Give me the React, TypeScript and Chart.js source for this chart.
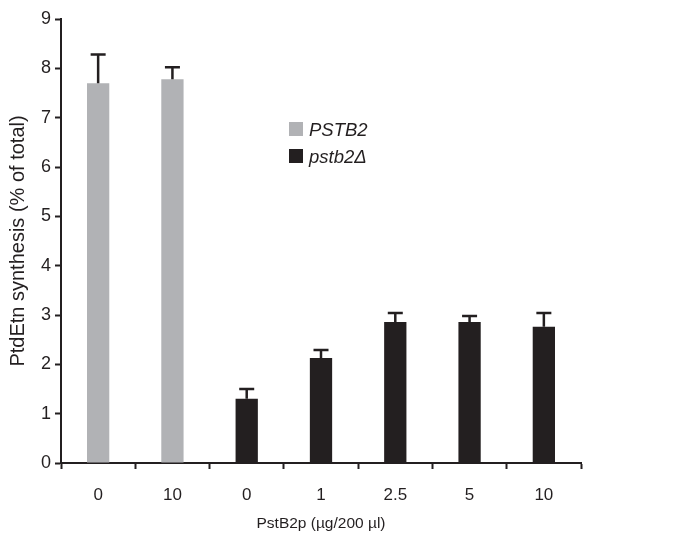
import React, { useEffect, useRef } from "react";
import { Chart, registerables } from "chart.js";

Chart.register(...registerables);

const categories = ["0", "10", "0", "1", "2.5", "5", "10"];
const wildTypeLabel = "PSTB2";
const mutantLabel = "pstb2Δ";
const wildTypeValues = [7.7, 7.78, null, null, null, null, null];
const wildTypeErrors = [0.58, 0.24, null, null, null, null, null];
const mutantValues = [null, null, 1.3, 2.13, 2.86, 2.86, 2.76];
const mutantErrors = [null, null, 0.2, 0.16, 0.18, 0.12, 0.28];
const yTicks = [0, 1, 2, 3, 4, 5, 6, 7, 8, 9];

const INK = "#231f20";
const GREY = "#b1b2b5";
const FONT = "'Liberation Sans', Arial, Helvetica, sans-serif";

const errorBarPlugin = {
  id: "errorBars",
  afterDatasetsDraw(chart: any) {
    const ctx = chart.ctx;
    const y = chart.scales.y;
    chart.data.datasets.forEach((ds: any, di: number) => {
      const meta = chart.getDatasetMeta(di);
      const errs = ds.errors || [];
      meta.data.forEach((el: any, i: number) => {
        const v = ds.data[i];
        const e = errs[i];
        if (v == null || e == null) return;
        const x = el.x;
        const y0 = y.getPixelForValue(v);
        const y1 = y.getPixelForValue(v + e);
        ctx.save();
        ctx.strokeStyle = INK;
        ctx.lineWidth = 2.5;
        ctx.beginPath();
        ctx.moveTo(x, y0);
        ctx.lineTo(x, y1);
        ctx.moveTo(x - 7.5, y1);
        ctx.lineTo(x + 7.5, y1);
        ctx.stroke();
        ctx.restore();
      });
    });
  },
};

const legendPlugin = {
  id: "insetLegend",
  afterDraw(chart: any) {
    const ctx = chart.ctx;
    const { left, top } = chart.chartArea;
    const x0 = left + 228;
    let y0 = top + 103;
    ctx.save();
    chart.data.datasets.forEach((ds: any) => {
      ctx.fillStyle = ds.backgroundColor;
      ctx.fillRect(x0, y0, 14, 14);
      ctx.fillStyle = INK;
      ctx.font = `italic 18.5px ${FONT}`;
      ctx.textBaseline = "alphabetic";
      ctx.textAlign = "left";
      ctx.fillText(ds.label, x0 + 20, y0 + 14);
      y0 += 27;
    });
    ctx.restore();
  },
};

export default function App() {
  const ref = useRef<HTMLCanvasElement | null>(null);
  useEffect(() => {
    if (!ref.current) return;
    const chart = new Chart(ref.current, {
      type: "bar",
      data: {
        labels: categories,
        datasets: [
          {
            label: wildTypeLabel,
            data: wildTypeValues,
            errors: wildTypeErrors,
            backgroundColor: GREY,
            skipNull: true,
            barPercentage: 0.3,
            categoryPercentage: 1,
          } as any,
          {
            label: mutantLabel,
            data: mutantValues,
            errors: mutantErrors,
            backgroundColor: INK,
            skipNull: true,
            barPercentage: 0.3,
            categoryPercentage: 1,
          } as any,
        ],
      },
      options: {
        animation: false,
        responsive: true,
        maintainAspectRatio: false,
        layout: { padding: { top: 19, right: 96, left: 0, bottom: 0 } },
        plugins: {
          legend: { display: false },
          tooltip: { enabled: false },
        },
        scales: {
          x: {
            grid: {
              display: true,
              drawOnChartArea: false,
              drawTicks: true,
              tickLength: 6,
              tickWidth: 2,
              color: INK,
              offset: true,
            },
            border: { display: true, width: 2, color: INK },
            ticks: {
              color: INK,
              font: { family: FONT, size: 17 },
              padding: 16,
              maxRotation: 0,
            },
            title: {
              display: true,
              text: "PstB2p (µg/200 µl)",
              color: INK,
              font: { family: FONT, size: 15.5 },
              padding: { top: 5, bottom: 0 },
            },
            afterFit(scale: any) {
              scale.height = 70;
            },
          },
          y: {
            min: 0,
            max: 9,
            afterBuildTicks(scale: any) {
              scale.ticks = yTicks.map((v) => ({ value: v }));
            },
            grid: {
              display: true,
              drawOnChartArea: false,
              drawTicks: true,
              tickLength: 6,
              tickWidth: 2,
              color: INK,
            },
            border: { display: true, width: 2, color: INK },
            ticks: {
              color: INK,
              font: { family: FONT, size: 18 },
              padding: 4,
            },
            title: {
              display: true,
              text: "PtdEtn synthesis (% of total)",
              color: INK,
              font: { family: FONT, size: 20 },
              padding: { top: 6, bottom: 0 },
            },
            afterFit(scale: any) {
              scale.width = 61;
            },
          },
        },
      } as any,
      plugins: [errorBarPlugin, legendPlugin],
    });
    return () => chart.destroy();
  }, []);
  return (
    <div style={{ position: "fixed", left: 0, top: 0, width: 677, height: 533, background: "#fff" }}>
      <canvas ref={ref} />
    </div>
  );
}
